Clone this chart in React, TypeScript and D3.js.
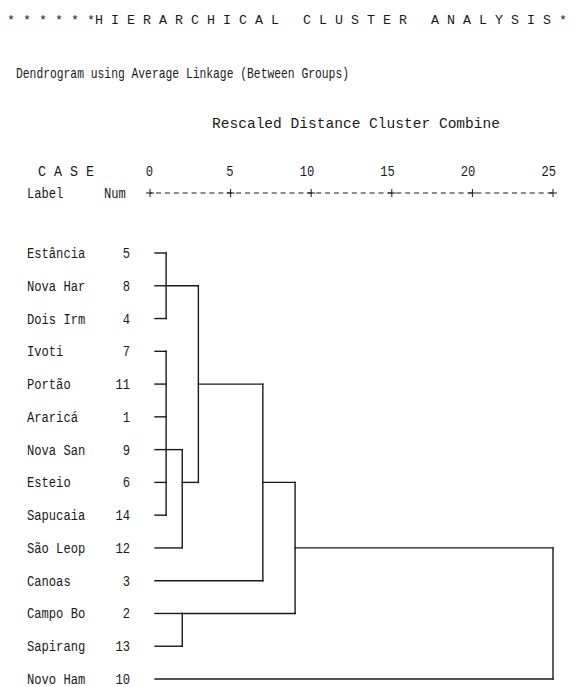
import React from 'react';
import * as d3 from 'd3';

// case labels / numbers, top to bottom as listed in the dendrogram
const caseLabels = ['Estância', 'Nova Har', 'Dois Irm', 'Ivoti', 'Portão', 'Araricá', 'Nova San', 'Esteio', 'Sapucaia', 'São Leop', 'Canoas', 'Campo Bo', 'Sapirang', 'Novo Ham'];
const caseNums = [5, 8, 4, 7, 11, 1, 9, 6, 14, 12, 3, 2, 13, 10];

// merges: children are leaves (L + row) or earlier merges (M + index)
const mergeChildren = [
  ['L0', 'L1', 'L2'],
  ['L3', 'L4', 'L5', 'L6', 'L7', 'L8'],
  ['M1', 'L9'],
  ['M0', 'M2'],
  ['M3', 'L10'],
  ['L11', 'L12'],
  ['M4', 'M5'],
  ['M6', 'L13'],
];
const mergeDistances = [1, 1, 2, 3, 7, 2, 9, 25];
// row that carries the outgoing line of each merge
const mergeOutRows = [1, 6, 7, 4, 7, 11, 9, 13];

const axisTicks = [0, 5, 10, 15, 20, 25];

const title = '* * * * * *H I E R A R C H I C A L   C L U S T E R   A N A L Y S I S *';
const subtitle = 'Dendrogram using Average Linkage (Between Groups)';
const axisTitle = 'Rescaled Distance Cluster Combine';

const W = 575;
const H = 687;
const FONT = '"Liberation Mono", "DejaVu Sans Mono", monospace';
const INK = '#1a1a1a';
const SX = 0.81;

const T: React.FC<{ x: number; y: number; anchor?: string; len?: number; size?: number; children: React.ReactNode }> = ({ x, y, anchor = 'start', len, size = 15, children }) => (
  <text
    transform={len ? `translate(${x},${y})` : `translate(${x},${y}) scale(${SX},1)`}
    textAnchor={anchor}
    fontFamily={FONT}
    fontSize={size}
    fill={INK}
    style={{ whiteSpace: 'pre' }}
    textLength={len}
    lengthAdjust={len ? 'spacingAndGlyphs' : undefined}
  >
    {children}
  </text>
);

const App: React.FC = () => {
  const x = d3.scaleLinear().domain([0, 25]).range([150, 553]);
  const y = d3.scalePoint<number>().domain(d3.range(caseLabels.length)).range([253, 679]);
  const leafStart = x(0) + 5;

  const nodeX = (id: string) => (id[0] === 'L' ? leafStart : x(mergeDistances[+id.slice(1)]));
  const nodeRow = (id: string) => (id[0] === 'L' ? +id.slice(1) : mergeOutRows[+id.slice(1)]);

  const segs: { x1: number; y1: number; x2: number; y2: number }[] = [];
  mergeChildren.forEach((kids, i) => {
    const h = x(mergeDistances[i]);
    const rows = kids.map(nodeRow);
    segs.push({ x1: h, y1: y(d3.min(rows)!)!, x2: h, y2: y(d3.max(rows)!)! });
    kids.forEach((k) => {
      const r = y(nodeRow(k))!;
      segs.push({ x1: nodeX(k), y1: r, x2: h, y2: r });
    });
  });

  const axisY = 193;

  return (
    <div style={{ position: 'absolute', left: 0, top: 0, background: '#fff' }}>
      <svg width={W} height={H} style={{ display: 'block' }}>
        <rect width={W} height={H} fill="#fff" />
        <T x={7} y={24} len={560} size={13}>{title}</T>
        <T x={16} y={78} len={333}>{subtitle}</T>
        <T x={212} y={128} len={288}>{axisTitle}</T>
        <T x={38} y={176} len={56}>{'C A S E'}</T>
        <T x={27} y={198}>Label</T>
        <T x={104} y={198}>Num</T>

        {axisTicks.map((t) => (
          <T key={t} x={x(t) + 3} y={176} anchor="end">{String(t)}</T>
        ))}
        <line x1={x(0)} x2={x(25)} y1={axisY} y2={axisY} stroke={INK} strokeWidth={1} strokeDasharray="5,3.9" strokeDashoffset={-6} />
        {axisTicks.map((t) => (
          <g key={'p' + t} stroke={INK} strokeWidth={1}>
            <line x1={x(t) - 4} x2={x(t) + 4} y1={axisY} y2={axisY} />
            <line x1={x(t)} x2={x(t)} y1={axisY - 4} y2={axisY + 4} />
          </g>
        ))}

        {caseLabels.map((lab, i) => (
          <g key={lab}>
            <T x={27} y={y(i)! + 5}>{lab}</T>
            <T x={130} y={y(i)! + 5} anchor="end">{String(caseNums[i])}</T>
          </g>
        ))}

        <g stroke={INK} strokeWidth={1.4} strokeLinecap="square">
          {segs.map((s, i) => (
            <line key={i} x1={s.x1} y1={s.y1} x2={s.x2} y2={s.y2} />
          ))}
        </g>
      </svg>
    </div>
  );
};

export default App;
